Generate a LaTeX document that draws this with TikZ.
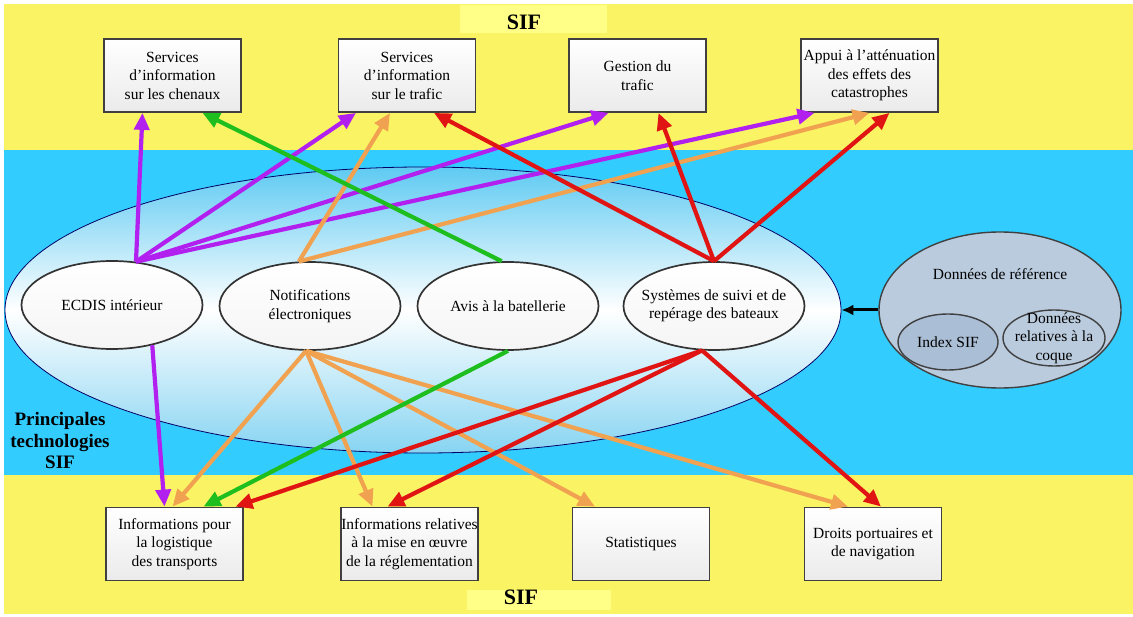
\documentclass[tikz,border=0pt]{standalone}
\usepackage{fontspec}
\setmainfont{Liberation Serif}
\usetikzlibrary{shapes.geometric,arrows.meta}

\definecolor{sifyellow}{RGB}{250,243,100}
\definecolor{siflight}{RGB}{255,255,135}
\definecolor{sifblue}{RGB}{51,204,255}
\definecolor{techtop}{RGB}{95,202,242}
\definecolor{techbot}{RGB}{135,212,242}
\definecolor{refgray}{RGB}{186,203,222}
\definecolor{refdark}{RGB}{170,190,214}
\definecolor{fpurple}{RGB}{178,32,240}
\definecolor{fgreen}{RGB}{30,190,30}
\definecolor{fred}{RGB}{225,20,20}
\definecolor{forange}{RGB}{240,162,80}

\newcommand{\boxfont}{\fontsize{15.5}{18.5}\selectfont}

\begin{document}
\begin{tikzpicture}[x=1pt,y=-1pt,
	box/.style={draw=black!75, line width=1.8pt, top color=white, bottom color=black!8,
		minimum width=137pt, minimum height=73pt, inner sep=0pt, align=center, font=\boxfont},
	techno/.style={ellipse, draw=black!80, line width=1.7pt, top color=white, bottom color=black!4,
		minimum width=181pt, minimum height=88pt},
	techtext/.style={align=center, font=\boxfont},
	fl/.style={line width=4.2pt, -{Triangle[length=17pt,width=15pt]}},
	sif/.style={font=\fontsize{22}{24}\selectfont\bfseries}
	]
	
	\useasboundingbox (0,0) rectangle (1133,617);
	\fill[white] (0,0) rectangle (1133,617);
	\fill[sifyellow] (4,4) rectangle (1133,614);
	\fill[sifblue] (4,150) rectangle (1133,475);
	\fill[siflight] (460,5) rectangle (607,33);
	\fill[siflight] (467,590) rectangle (611,610);
	
	\node[sif] (sifhaut) at (524,22) {SIF};
	\node[sif] (sifbas) at (521,597) {SIF};
	\node[align=center, font=\fontsize{19}{21.5}\selectfont\bfseries] (princ) at (60,441) {Principales\\technologies\\SIF};
	
	% services SIF
	\node[box] (chenaux) at (172.5,75.5) {Services\\d’information\\sur les chenaux};
	\node[box] (trafic) at (407,75.5) {Services\\d’information\\sur le trafic};
	\node[box] (gestion) at (637.5,75.5) {Gestion du\\trafic};
	\node[box] (appui) at (869.5,75.5) {Appui à l’atténuation\\des effets des\\catastrophes};
	
	\node[box] (logistique) at (174.5,544) {Informations pour\\la logistique\\des transports};
	\node[box] (reglement) at (409.5,544) {Informations relatives\\à la mise en œuvre\\de la réglementation};
	\node[box] (stats) at (641,544) {Statistiques};
	\node[box] (droits) at (873,544) {Droits portuaires et\\de navigation};
	
	% technologies
	\node[ellipse, draw=blue!40!black, line width=0.8pt, top color=techtop, bottom color=techbot, middle color=white,
		minimum width=836pt, minimum height=286pt] (tech) at (423,310) {};
	\node[techno, label={[techtext]center:ECDIS intérieur}] (ecdis) at (112,305) {};
	\node[techno, label={[techtext]center:Notifications\\électroniques}] (notif) at (310,306) {};
	\node[techno, label={[techtext]center:Avis à la batellerie}] (avis) at (508,306) {};
	\node[techno, label={[techtext]center:Systèmes de suivi et de\\repérage des bateaux}] (suivi) at (714,306) {};
	
	% donnees de reference
	\node[ellipse, draw=black!75, line width=1.4pt, fill=refgray, minimum width=242pt, minimum height=156pt] (ref) at (1000,310) {};
	\node[font=\boxfont] (reftxt) at (1000,274) {Données de référence};
	\node[ellipse, draw=black!75, line width=1.4pt, fill=refdark, minimum width=100pt, minimum height=56pt,
		label={[techtext]center:Index SIF}] (index) at (948,342) {};
	\node[ellipse, draw=black!75, line width=1.4pt, fill=refgray, minimum width=102pt, minimum height=56pt,
		label={[techtext]center:Données\\relatives à la\\coque}] (coque) at (1054,338) {};
	\draw[line width=3pt, -{Latex[length=12pt,width=11pt]}] (ref.west) -- (tech.east);
	
	\draw[fl, fpurple] (ecdis.61) -- ([xshift=-30pt]chenaux.south);
	\draw[fl, fpurple] (ecdis.61) -- ([xshift=-51pt]trafic.south);
	\draw[fl, fpurple] (ecdis.61) -- ([xshift=-29pt]gestion.south);
	\draw[fl, fpurple] (ecdis.61) -- ([xshift=-55pt]appui.south);
	\draw[fl, forange] (notif.104) -- ([xshift=-17pt]trafic.south);
	\draw[fl, forange] (notif.104) -- (appui.south);
	\draw[fl, fgreen] (avis.98) -- ([xshift=30pt]chenaux.south);
	\draw[fl, fred] (suivi.north) -- ([xshift=27pt]trafic.south);
	\draw[fl, fred] (suivi.north) -- ([xshift=21pt]gestion.south);
	\draw[fl, fred] (suivi.north) -- ([xshift=20pt]appui.south);
	
	\draw[fl, fpurple] (ecdis.-45) -- ([xshift=-10pt]logistique.north);
	\draw[fl, forange] (notif.265) -- ([xshift=-2pt]logistique.north);
	\draw[fl, forange] (notif.265) -- ([xshift=-37pt]reglement.north);
	\draw[fl, forange] (notif.265) -- ([xshift=-46pt]stats.north);
	\draw[fl, forange] (notif.265) -- ([xshift=-25pt]droits.north);
	\draw[fl, fgreen] (avis.south) -- ([xshift=29pt]logistique.north);
	\draw[fl, fred] (suivi.255) -- ([xshift=61pt]logistique.north);
	\draw[fl, fred] (suivi.255) -- ([xshift=-22pt]reglement.north);
	\draw[fl, fred] (suivi.255) -- ([xshift=8pt]droits.north);
	
\end{tikzpicture}
\end{document}
